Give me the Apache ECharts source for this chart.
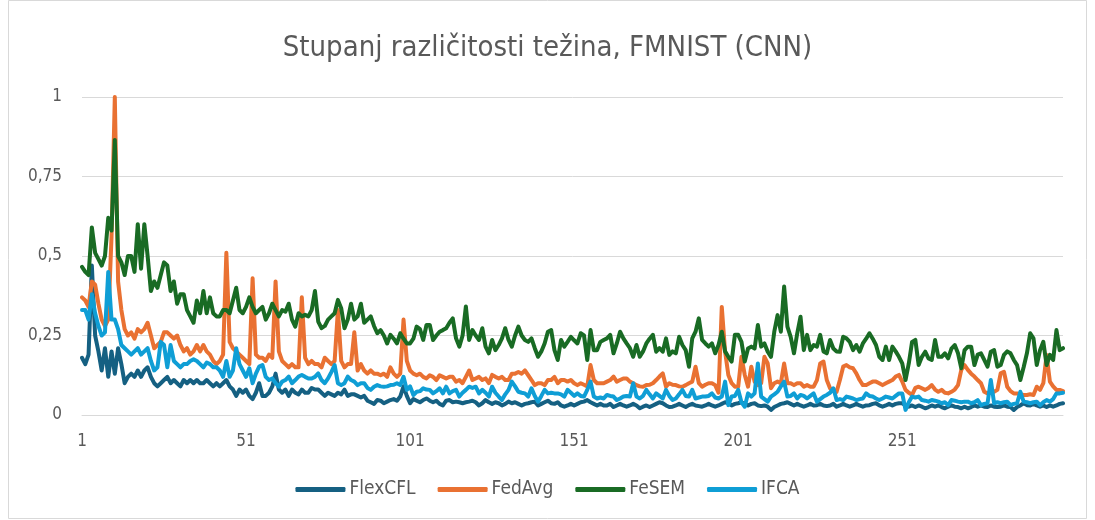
<!DOCTYPE html>
<html>
<head>
<meta charset="utf-8">
<script src="https://cdn.jsdelivr.net/npm/echarts@6/dist/echarts.min.js"></script>
<style>
  html, body { margin: 0; padding: 0; background: #fff; }
  #chart { width: 1095px; height: 520px; }
</style>
</head>
<body>
<div id="chart"></div>
<script>
// rounds 1..300
var rounds = [];
for (var r = 1; r <= 300; r++) rounds.push(String(r));

var yTicks = [0, 0.25, 0.5, 0.75, 1];

var flexcfl = [
  0.18,0.16,0.19,0.47,0.25,0.2,0.14,0.21,0.12,0.2,
  0.13,0.21,0.16,0.1,0.12,0.13,0.12,0.14,0.12,0.14,
  0.15,0.12,0.1,0.09,0.1,0.11,0.12,0.1,0.11,0.1,
  0.09,0.11,0.1,0.11,0.1,0.11,0.1,0.1,0.11,0.1,
  0.09,0.1,0.09,0.1,0.11,0.09,0.08,0.06,0.08,0.07,
  0.08,0.06,0.05,0.07,0.1,0.06,0.06,0.07,0.09,0.13,
  0.08,0.07,0.08,0.06,0.08,0.07,0.065,0.08,0.07,0.07,
  0.085,0.08,0.08,0.07,0.06,0.07,0.065,0.06,0.07,0.065,
  0.08,0.06,0.065,0.065,0.06,0.055,0.06,0.045,0.04,0.035,
  0.047,0.045,0.037,0.042,0.047,0.05,0.045,0.058,0.09,0.06,
  0.037,0.05,0.045,0.04,0.047,0.052,0.045,0.04,0.045,0.035,
  0.03,0.045,0.047,0.04,0.042,0.04,0.037,0.04,0.042,0.045,
  0.04,0.03,0.037,0.047,0.04,0.035,0.04,0.037,0.03,0.035,
  0.042,0.037,0.04,0.035,0.03,0.035,0.037,0.04,0.042,0.03,
  0.035,0.04,0.045,0.037,0.035,0.04,0.03,0.026,0.03,0.035,
  0.03,0.035,0.04,0.042,0.047,0.04,0.035,0.03,0.035,0.03,
  0.03,0.035,0.025,0.03,0.035,0.03,0.026,0.03,0.035,0.03,
  0.021,0.026,0.03,0.025,0.03,0.035,0.04,0.037,0.03,0.025,
  0.026,0.03,0.035,0.03,0.025,0.031,0.035,0.03,0.028,0.026,
  0.03,0.035,0.03,0.026,0.03,0.035,0.04,0.037,0.03,0.035,
  0.037,0.04,0.035,0.03,0.035,0.037,0.03,0.028,0.03,0.026,
  0.016,0.025,0.03,0.035,0.037,0.04,0.035,0.03,0.035,0.03,
  0.026,0.03,0.035,0.03,0.031,0.035,0.03,0.028,0.03,0.035,
  0.026,0.03,0.035,0.03,0.026,0.03,0.035,0.03,0.026,0.03,
  0.031,0.035,0.037,0.03,0.026,0.03,0.035,0.03,0.035,0.037,
  0.037,0.03,0.026,0.03,0.025,0.03,0.026,0.021,0.025,0.03,
  0.026,0.03,0.025,0.021,0.026,0.03,0.026,0.025,0.021,0.026,
  0.021,0.025,0.03,0.026,0.03,0.026,0.025,0.03,0.026,0.025,
  0.026,0.03,0.026,0.025,0.016,0.025,0.03,0.037,0.031,0.03,
  0.035,0.03,0.026,0.03,0.025,0.03,0.026,0.03,0.035,0.037
];

var fedavg = [
  0.37,0.36,0.34,0.42,0.41,0.35,0.3,0.28,0.3,0.56,
  1.0,0.42,0.33,0.27,0.25,0.26,0.24,0.27,0.26,0.27,
  0.29,0.25,0.21,0.22,0.23,0.26,0.26,0.25,0.24,0.25,
  0.22,0.2,0.21,0.19,0.2,0.22,0.2,0.22,0.2,0.19,
  0.17,0.16,0.17,0.19,0.51,0.23,0.21,0.2,0.19,0.18,
  0.17,0.16,0.43,0.19,0.18,0.18,0.17,0.19,0.18,0.42,
  0.2,0.17,0.16,0.15,0.16,0.15,0.15,0.37,0.18,0.16,
  0.17,0.16,0.16,0.15,0.18,0.17,0.16,0.17,0.33,0.17,
  0.15,0.16,0.16,0.26,0.14,0.16,0.14,0.13,0.14,0.13,
  0.13,0.125,0.13,0.12,0.15,0.13,0.12,0.13,0.3,0.17,
  0.14,0.13,0.125,0.13,0.12,0.115,0.125,0.12,0.11,0.125,
  0.12,0.115,0.12,0.12,0.105,0.11,0.1,0.12,0.14,0.11,
  0.115,0.12,0.11,0.115,0.1,0.126,0.12,0.115,0.12,0.11,
  0.11,0.13,0.13,0.135,0.13,0.14,0.125,0.11,0.094,0.1,
  0.1,0.094,0.11,0.11,0.12,0.1,0.11,0.11,0.105,0.11,
  0.1,0.094,0.1,0.095,0.09,0.157,0.11,0.1,0.1,0.1,
  0.105,0.11,0.121,0.105,0.11,0.115,0.115,0.105,0.1,0.094,
  0.09,0.089,0.094,0.095,0.1,0.11,0.121,0.131,0.089,0.1,
  0.095,0.094,0.09,0.089,0.094,0.1,0.105,0.152,0.1,0.089,
  0.095,0.1,0.1,0.094,0.07,0.34,0.2,0.126,0.1,0.089,
  0.089,0.183,0.126,0.089,0.152,0.105,0.094,0.1,0.183,0.162,
  0.084,0.1,0.105,0.1,0.162,0.1,0.1,0.094,0.1,0.1,
  0.089,0.094,0.089,0.089,0.11,0.162,0.168,0.11,0.084,0.08,
  0.073,0.11,0.152,0.157,0.15,0.147,0.131,0.11,0.094,0.094,
  0.1,0.105,0.105,0.1,0.094,0.1,0.105,0.11,0.121,0.126,
  0.105,0.079,0.07,0.063,0.085,0.089,0.084,0.079,0.085,0.094,
  0.08,0.073,0.079,0.07,0.068,0.073,0.08,0.094,0.142,0.157,
  0.142,0.13,0.121,0.11,0.1,0.073,0.068,0.07,0.073,0.079,
  0.131,0.136,0.089,0.075,0.068,0.068,0.065,0.063,0.063,0.065,
  0.063,0.089,0.079,0.1,0.189,0.105,0.09,0.079,0.079,0.075
];

var fesem = [
  0.466,0.45,0.44,0.59,0.51,0.49,0.47,0.5,0.62,0.58,
  0.865,0.5,0.48,0.44,0.5,0.5,0.45,0.6,0.46,0.6,
  0.5,0.39,0.42,0.4,0.44,0.48,0.47,0.39,0.42,0.35,
  0.38,0.38,0.33,0.31,0.29,0.36,0.32,0.39,0.32,0.37,
  0.32,0.31,0.31,0.33,0.33,0.32,0.36,0.4,0.33,0.32,
  0.34,0.37,0.34,0.32,0.33,0.34,0.3,0.32,0.35,0.33,
  0.31,0.33,0.325,0.35,0.3,0.278,0.32,0.31,0.315,0.31,
  0.33,0.39,0.294,0.273,0.28,0.3,0.31,0.32,0.362,0.336,
  0.273,0.3,0.35,0.3,0.31,0.35,0.29,0.3,0.31,0.28,
  0.257,0.267,0.25,0.225,0.252,0.24,0.225,0.257,0.24,0.225,
  0.225,0.24,0.278,0.27,0.236,0.283,0.283,0.236,0.25,0.262,
  0.267,0.273,0.29,0.304,0.241,0.215,0.25,0.341,0.236,0.267,
  0.25,0.236,0.273,0.215,0.194,0.236,0.204,0.22,0.241,0.273,
  0.236,0.215,0.25,0.278,0.25,0.236,0.23,0.241,0.21,0.183,
  0.2,0.225,0.262,0.267,0.204,0.173,0.236,0.215,0.23,0.246,
  0.235,0.225,0.257,0.25,0.173,0.267,0.204,0.204,0.23,0.236,
  0.241,0.252,0.194,0.225,0.262,0.241,0.225,0.21,0.183,0.22,
  0.183,0.2,0.225,0.24,0.252,0.199,0.21,0.199,0.241,0.189,
  0.2,0.194,0.246,0.22,0.204,0.152,0.241,0.262,0.304,0.236,
  0.225,0.215,0.225,0.194,0.22,0.262,0.2,0.183,0.168,0.252,
  0.252,0.23,0.168,0.209,0.215,0.209,0.283,0.215,0.225,0.199,
  0.183,0.262,0.314,0.262,0.404,0.278,0.246,0.194,0.257,0.309,
  0.204,0.252,0.204,0.22,0.215,0.252,0.2,0.194,0.236,0.209,
  0.2,0.199,0.246,0.241,0.23,0.204,0.22,0.199,0.225,0.24,
  0.257,0.24,0.22,0.183,0.173,0.215,0.173,0.215,0.2,0.183,
  0.162,0.11,0.162,0.23,0.236,0.157,0.183,0.199,0.178,0.173,
  0.236,0.183,0.183,0.194,0.178,0.209,0.22,0.194,0.147,0.204,
  0.215,0.215,0.157,0.19,0.194,0.173,0.152,0.199,0.204,0.152,
  0.157,0.189,0.2,0.194,0.173,0.157,0.11,0.15,0.194,0.257,
  0.241,0.157,0.204,0.23,0.157,0.189,0.173,0.267,0.204,0.21
];

var ifca = [
  0.33,0.33,0.3,0.38,0.32,0.28,0.25,0.26,0.45,0.3,
  0.3,0.27,0.22,0.21,0.2,0.19,0.2,0.21,0.19,0.2,
  0.21,0.17,0.14,0.15,0.23,0.22,0.15,0.22,0.17,0.16,
  0.15,0.16,0.16,0.17,0.175,0.17,0.16,0.15,0.165,0.16,
  0.15,0.15,0.14,0.12,0.17,0.12,0.14,0.21,0.16,0.14,
  0.12,0.147,0.1,0.13,0.152,0.157,0.12,0.11,0.115,0.1,
  0.089,0.105,0.11,0.121,0.1,0.11,0.121,0.126,0.12,0.115,
  0.115,0.12,0.131,0.11,0.1,0.115,0.135,0.157,0.1,0.094,
  0.1,0.121,0.11,0.105,0.094,0.1,0.1,0.085,0.079,0.089,
  0.094,0.09,0.089,0.09,0.094,0.095,0.1,0.094,0.12,0.079,
  0.09,0.063,0.073,0.075,0.084,0.08,0.079,0.068,0.075,0.084,
  0.068,0.089,0.068,0.075,0.079,0.058,0.07,0.079,0.089,0.085,
  0.089,0.068,0.079,0.07,0.058,0.089,0.07,0.058,0.047,0.065,
  0.079,0.105,0.09,0.073,0.07,0.068,0.058,0.084,0.06,0.042,
  0.06,0.079,0.068,0.07,0.068,0.068,0.065,0.058,0.079,0.07,
  0.06,0.068,0.06,0.058,0.079,0.105,0.058,0.052,0.055,0.052,
  0.063,0.06,0.058,0.047,0.052,0.058,0.06,0.058,0.1,0.058,
  0.052,0.06,0.079,0.065,0.052,0.068,0.06,0.052,0.079,0.06,
  0.047,0.052,0.065,0.079,0.06,0.058,0.079,0.052,0.055,0.058,
  0.058,0.06,0.068,0.055,0.052,0.058,0.105,0.031,0.058,0.06,
  0.079,0.04,0.026,0.068,0.058,0.068,0.162,0.058,0.05,0.042,
  0.058,0.065,0.073,0.09,0.105,0.058,0.06,0.068,0.052,0.063,
  0.06,0.052,0.06,0.068,0.042,0.05,0.058,0.063,0.07,0.084,
  0.047,0.05,0.047,0.058,0.055,0.052,0.047,0.05,0.052,0.068,
  0.06,0.058,0.052,0.047,0.052,0.058,0.055,0.052,0.06,0.068,
  0.068,0.016,0.04,0.058,0.055,0.058,0.047,0.045,0.042,0.047,
  0.045,0.042,0.037,0.04,0.031,0.047,0.045,0.042,0.04,0.042,
  0.042,0.037,0.04,0.047,0.031,0.035,0.037,0.11,0.037,0.04,
  0.037,0.04,0.042,0.031,0.035,0.037,0.073,0.042,0.04,0.037,
  0.04,0.042,0.031,0.04,0.047,0.042,0.05,0.068,0.068,0.07
];

var seriesNames = ['FlexCFL', 'FedAvg', 'FeSEM', 'IFCA'];
var seriesColors = ['#156082', '#E97132', '#196B24', '#0F9ED5'];
var seriesData = [flexcfl, fedavg, fesem, ifca];

var font = "'Liberation Sans Narrow', 'DejaVu Sans Condensed', 'Liberation Sans', sans-serif";

var chart = echarts.init(document.getElementById('chart'));

var series = [];
for (var s = 0; s < seriesNames.length; s++) {
    series.push({
        name: seriesNames[s],
        type: 'line',
        data: seriesData[s],
        symbol: 'none',
        lineStyle: { width: 4, color: seriesColors[s], cap: 'round', join: 'round' },
        itemStyle: { color: seriesColors[s] }
    });
}

var option = {
    animation: false,
    backgroundColor: '#ffffff',
    title: {
        text: 'Stupanj različitosti težina, FMNIST (CNN)',
        left: 'center',
        top: 29,
        textStyle: { fontFamily: font, fontSize: 29, fontWeight: 'normal', color: '#595959' }
    },
    graphic: [{
        type: 'rect',
        shape: { x: 8.5, y: 0.5, width: 1078, height: 518 },
        style: { fill: 'none', stroke: '#d9d9d9', lineWidth: 1 },
        silent: true
    }],
    legend: {
        bottom: 16,
        left: 'center',
        icon: 'roundRect',
        itemWidth: 50,
        itemHeight: 5,
        itemGap: 22,
        textStyle: { fontFamily: font, fontSize: 19, color: '#595959', padding: [0, 0, 0, -1] },
        data: seriesNames
    },
    grid: {
        left: 82,
        right: 32,
        top: 97,
        bottom: 105,
        containLabel: false
    },
    xAxis: {
        type: 'category',
        data: rounds,
        boundaryGap: false,
        axisTick: { show: false },
        axisLine: { lineStyle: { color: '#d9d9d9', width: 1 } },
        axisLabel: {
            interval: 49,
            margin: 18,
            fontFamily: font,
            fontSize: 17,
            color: '#595959'
        },
        splitLine: { show: false }
    },
    yAxis: {
        type: 'value',
        min: yTicks[0],
        max: yTicks[yTicks.length - 1],
        interval: 0.25,
        axisLine: { show: false },
        axisTick: { show: false },
        axisLabel: {
            margin: 20,
            fontFamily: font,
            fontSize: 17,
            color: '#595959',
            formatter: function (v) { return String(v).replace('.', ','); }
        },
        splitLine: { lineStyle: { color: '#d9d9d9', width: 1 } }
    },
    series: series
};

chart.setOption(option);
</script>
</body>
</html>
